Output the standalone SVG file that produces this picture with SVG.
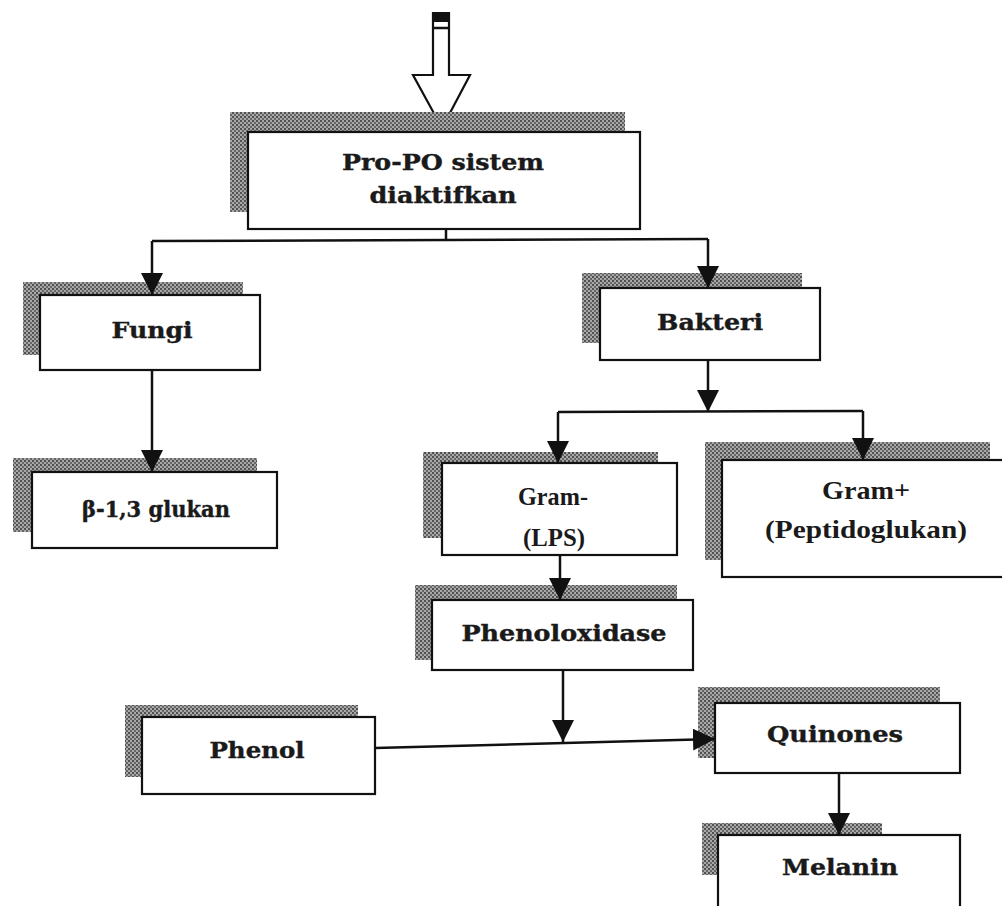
<svg xmlns="http://www.w3.org/2000/svg" width="1002" height="906" viewBox="0 0 1002 906">
<style>
  .box{fill:#fff;stroke:#111;stroke-width:2.2}
  .sh{fill:url(#dots)}
  .t{font-family:"DejaVu Serif","Liberation Serif",serif;font-weight:bold;font-size:22px;fill:#1a1a1a;stroke:#1a1a1a;stroke-width:0.4;text-anchor:middle}
  .tr{font-family:"Liberation Serif","Times New Roman",serif;font-weight:bold;font-size:25px;fill:#1a1a1a;text-anchor:middle}
  .ln{fill:none;stroke:#111;stroke-width:2.5}
  .arr{fill:none;stroke:#111;stroke-width:2.5;marker-end:url(#ah)}
</style>
<defs>
  <pattern id="dots" width="4" height="4" patternUnits="userSpaceOnUse">
    <rect width="4" height="4" fill="#a8a8a8"/>
    <rect x="0" y="0" width="2" height="2" fill="#505050"/>
    <rect x="2" y="2" width="2" height="2" fill="#666"/>
  </pattern>
  <marker id="ah" viewBox="0 0 22 22" refX="22" refY="11" markerWidth="22" markerHeight="22" markerUnits="userSpaceOnUse" orient="auto">
    <path d="M0,0 L22,11 L0,22 z" fill="#111"/>
  </marker>
</defs>
<rect width="1002" height="906" fill="#fff"/>

<g id="input-arrow">
  <path d="M433,13 L449,13 L449,75 L470,75 L442,128 L413,75 L433,75 Z" fill="#fff" stroke="#111" stroke-width="2.2"/>
  <rect x="433" y="13" width="16" height="9" fill="#111"/>
  <line x1="433" y1="28" x2="449" y2="28" stroke="#111" stroke-width="2.5"/>
</g>

<g id="propo">
  <rect class="sh" x="230" y="112" width="395" height="100"/>
  <rect class="box" x="248" y="132" width="392" height="97"/>
  <text class="t" x="443" y="170" textLength="202" lengthAdjust="spacingAndGlyphs">Pro-PO sistem</text>
  <text class="t" x="443" y="203" textLength="147" lengthAdjust="spacingAndGlyphs">diaktifkan</text>
</g>

<g id="fungi">
  <rect class="sh" x="23" y="282" width="220" height="73"/>
  <rect class="box" x="40" y="295" width="220" height="75"/>
  <text class="t" x="152" y="338" textLength="81" lengthAdjust="spacingAndGlyphs">Fungi</text>
</g>

<g id="glukan">
  <rect class="sh" x="13" y="458" width="244" height="74"/>
  <rect class="box" x="32" y="472" width="245" height="76"/>
  <text class="t" x="156" y="517" textLength="148" lengthAdjust="spacingAndGlyphs">β-1,3 glukan</text>
</g>

<g id="bakteri">
  <rect class="sh" x="582" y="273" width="220" height="70"/>
  <rect class="box" x="600" y="288" width="220" height="72"/>
  <text class="t" x="710" y="330" textLength="106" lengthAdjust="spacingAndGlyphs">Bakteri</text>
</g>

<g id="gram-neg">
  <rect class="sh" x="423" y="452" width="235" height="86"/>
  <rect class="box" x="442" y="463" width="235" height="92"/>
  <text class="tr" x="553" y="505" textLength="70" lengthAdjust="spacingAndGlyphs">Gram-</text>
  <text class="tr" x="554" y="546" textLength="62" lengthAdjust="spacingAndGlyphs">(LPS)</text>
</g>

<g id="gram-pos">
  <rect class="sh" x="705" y="442" width="285" height="118"/>
  <rect class="box" x="722" y="460" width="285" height="117"/>
  <text class="tr" x="866" y="499" textLength="88" lengthAdjust="spacingAndGlyphs">Gram+</text>
  <text class="tr" x="866" y="538" textLength="202" lengthAdjust="spacingAndGlyphs">(Peptidoglukan)</text>
</g>

<g id="phenoloxidase">
  <rect class="sh" x="415" y="585" width="262" height="75"/>
  <rect class="box" x="432" y="600" width="261" height="70"/>
  <text class="t" x="564" y="641" textLength="205" lengthAdjust="spacingAndGlyphs">Phenoloxidase</text>
</g>

<g id="phenol">
  <rect class="sh" x="125" y="705" width="233" height="72"/>
  <rect class="box" x="142" y="717" width="233" height="77"/>
  <text class="t" x="257" y="758" textLength="95" lengthAdjust="spacingAndGlyphs">Phenol</text>
</g>

<g id="quinones">
  <rect class="sh" x="698" y="687" width="242" height="71"/>
  <rect class="box" x="715" y="703" width="245" height="70"/>
  <text class="t" x="835" y="742" textLength="136" lengthAdjust="spacingAndGlyphs">Quinones</text>
</g>

<g id="melanin">
  <rect class="sh" x="702" y="823" width="180" height="52"/>
  <rect class="box" x="718" y="835" width="242" height="85"/>
  <text class="t" x="840" y="875" textLength="116" lengthAdjust="spacingAndGlyphs">Melanin</text>
</g>

<g id="connectors">
  <polyline class="ln" points="446,229 446,241"/>
  <polyline class="ln" points="152,241 708,239"/>
  <line class="arr" x1="152" y1="241" x2="152" y2="295"/>
  <line class="arr" x1="708" y1="239" x2="708" y2="288"/>
  <line class="arr" x1="152" y1="370" x2="152" y2="472"/>
  <line class="arr" x1="708" y1="360" x2="708" y2="412"/>
  <polyline class="ln" points="558,412 863,411"/>
  <line class="arr" x1="558" y1="412" x2="558" y2="463"/>
  <line class="arr" x1="863" y1="411" x2="863" y2="460"/>
  <line class="arr" x1="560" y1="555" x2="560" y2="600"/>
  <line class="arr" x1="563" y1="670" x2="563" y2="742"/>
  <line class="arr" x1="375" y1="748" x2="715" y2="739"/>
  <line class="arr" x1="839" y1="773" x2="839" y2="835"/>
</g>
</svg>
